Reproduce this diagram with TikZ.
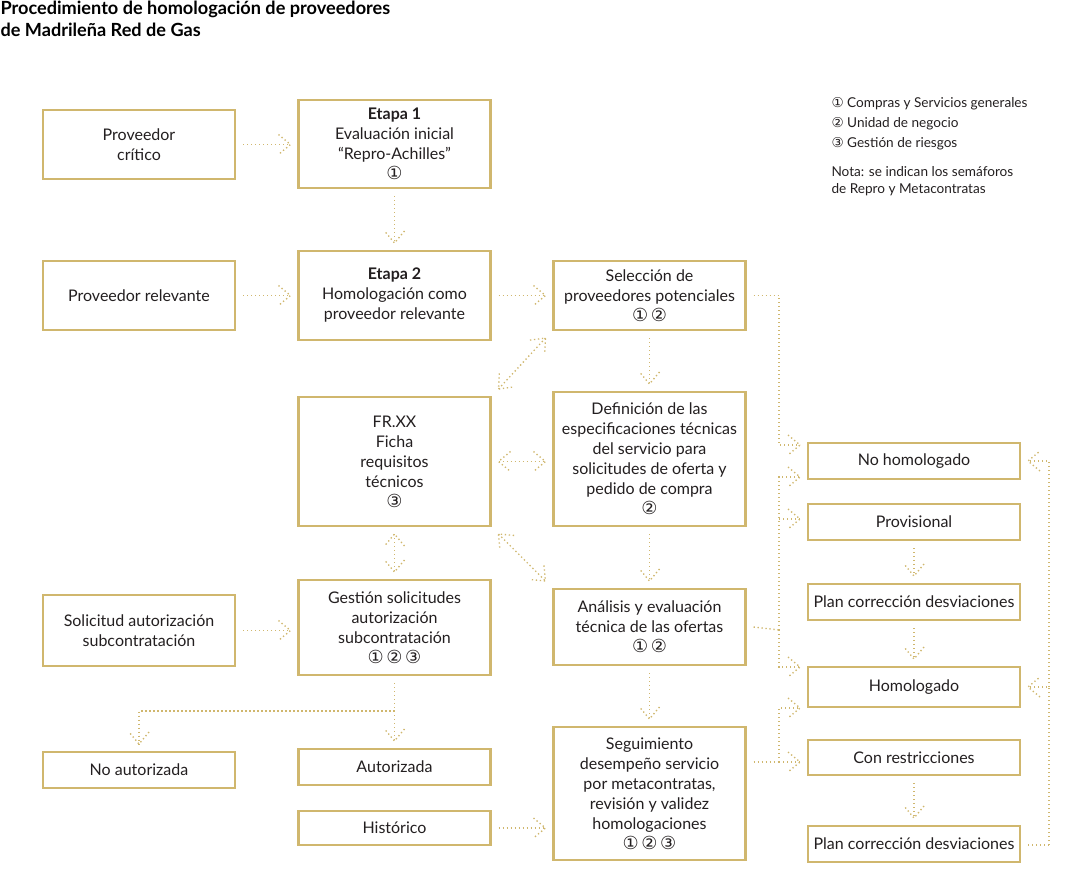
\documentclass[tikz,border=0pt]{standalone}
\usepackage{fontspec}
\setmainfont{Lato}
\newfontfamily\symfont{DejaVu Sans}
\usetikzlibrary{decorations.markings}

\definecolor{gold}{RGB}{208,183,110}
\definecolor{ink}{RGB}{35,31,32}

\newcommand{\cuno}{{\symfont\fontsize{13.5}{15}\selectfont ①}}
\newcommand{\cdos}{{\symfont\fontsize{13.5}{15}\selectfont ②}}
\newcommand{\ctres}{{\symfont\fontsize{13.5}{15}\selectfont ③}}

\tikzset{every picture/.style={line width=0.75pt}}
\tikzset{
  box/.style={draw=gold, line width=2pt, fill=white, align=center, text=ink,
    minimum width=144pt, inner sep=2pt, outer sep=6pt,
    font=\fontsize{12}{15}\selectfont},
  wbox/.style={box, minimum width=159pt},
  head/.style={draw=gold, line width=1pt, dash pattern=on 1pt off 2pt},
  flow/.style={head, postaction={decorate}, decoration={markings,
    mark=at position 1 with {\draw[head] (-9pt,7.5pt) -- (0,0) -- (-9pt,-7.5pt);}}},
  flowboth/.style={head, postaction={decorate}, decoration={markings,
    mark=at position 0 with {\draw[head] (9pt,7.5pt) -- (0,0) -- (9pt,-7.5pt);},
    mark=at position 1 with {\draw[head] (-9pt,7.5pt) -- (0,0) -- (-9pt,-7.5pt);}}},
  trunk/.style={head},
}

\begin{document}
\begin{tikzpicture}[x=0.75pt,y=0.75pt,yscale=-1,xscale=1]
\useasboundingbox (0,0) rectangle (1087,892);

% Title
\node (title) [anchor=north west, inner sep=0pt, align=left, text=black,
  font=\bfseries\fontsize{13.6}{16}\selectfont] at (0,1)
  {Procedimiento de homologación de proveedores\\de Madrileña Red de Gas};

% Legend
\node (leyenda) [anchor=north west, inner sep=0pt, align=left, text=ink,
  font=\fontsize{10.2}{15}\selectfont] at (831,97)
  {{\symfont ①}\ Compras y Servicios generales\\{\symfont ②}\ Unidad de negocio\\{\symfont ③}\ Gestión de riesgos};
\node (nota) [anchor=north west, inner sep=0pt, align=left, text=ink,
  font=\fontsize{10.2}{12.75}\selectfont] at (831,166)
  {Nota: se indican los semáforos\\de Repro y Metacontratas};

% Left column
\node (pc) [box, minimum height=51.75pt] at (139,144.5) {Proveedor\\crítico};
\node (pr) [box, minimum height=51.75pt] at (139,295.5) {Proveedor relevante};
\node (sol) [box, minimum height=53.25pt] at (139,630.5) {Solicitud autorización\\subcontratación};
\node (noa) [box, minimum height=27pt] at (139,770) {No autorizada};

% Second column
\node (e1) [box, minimum height=66pt] at (394.5,144) {\textbf{Etapa 1}\\Evaluación inicial\\“Repro-Achilles”\\\cuno};
\node (e2) [box, minimum height=66.75pt] at (394.5,295.5) {\textbf{Etapa 2}\\Homologación como\\proveedor relevante};
\node (fr) [box, minimum height=96.75pt] at (394.5,461.5) {FR.XX\\Ficha\\requisitos\\técnicos\\\ctres};
\node (ges) [box, minimum height=71.25pt] at (394.5,627.5) {Gestión solicitudes\\autorización\\subcontratación\\\cuno\,\cdos\,\ctres};
\node (aut) [box, minimum height=27pt] at (394.5,767) {Autorizada};
\node (his) [box, minimum height=25.5pt] at (394.5,828) {Histórico};

% Third column
\node (sel) [box, minimum height=51.75pt] at (649.5,295.5) {Selección de\\proveedores potenciales\\\cuno\,\cdos};
\node (def) [box, minimum height=100.5pt] at (649.5,459) {Definición de las\\especificaciones técnicas\\del servicio para\\solicitudes de oferta y\\pedido de compra\\\cdos};
\node (ana) [box, minimum height=57pt] at (649.5,627) {Análisis y evaluación\\técnica de las ofertas\\\cuno\,\cdos};
\node (seg) [box, minimum height=99.75pt] at (649.5,793.5) {Seguimiento\\desempeño servicio\\por metacontratas,\\revisión y validez\\homologaciones\\\cuno\,\cdos\,\ctres};

% Right column
\node (noh) [wbox, minimum height=27pt] at (914,461) {No homologado};
\node (pro) [wbox, minimum height=27pt] at (914,522) {Provisional};
\node (pl1) [wbox, minimum height=27pt] at (914,602) {Plan corrección desviaciones};
\node (hom) [wbox, minimum height=30pt] at (914,687) {Homologado};
\node (con) [wbox, minimum height=26.25pt] at (914,757.5) {Con restricciones};
\node (pl2) [wbox, minimum height=27pt] at (914,844) {Plan corrección desviaciones};

% Bus points
\coordinate (split) at (394.5,711);
\coordinate (busA) at (779,630);
\coordinate (busB) at (779,762);
\coordinate (busC) at (1049,845);

% Connectors
\draw [flow] (pc.east) -- (pc.east -| e1.west);
\draw [flow] (e1.south) -- (e2.north);
\draw [flow] (pr.east) -- (pr.east -| e2.west);
\draw [flow] (e2.east) -- (e2.east -| sel.west);
\draw [flowboth] (fr.north east) -- (sel.south west);
\draw [flow] (sel.south) -- (def.north);
\draw [flowboth] (fr.east) -- (fr.east -| def.west);
\draw [flowboth] (fr.south east) -- (ana.north west);
\draw [flow] (def.south) -- (ana.north);
\draw [flow] (ana.south) -- (seg.north);
\draw [flowboth] (fr.south) -- (ges.north);
\draw [flow] (sol.east) -- (sol.east -| ges.west);
\draw [flow] (ges.south) -- (aut.north);
\draw [flow] (split) -| (noa.north);
\draw [flow] (his.east) -- (his.east -| seg.west);

% Right bus lines
\draw [flow] (sel.east) -| (779,445) -- (noh.west |- 0,445);
\draw [trunk] (ana.east) -- (busA);
\draw [flow] (busA) |- (noh.west |- 0,477);
\draw [flow] (779,519) -- (pro.west |- 0,519);
\draw [flow] (busA) |- (hom.west |- 0,667);
\draw [trunk] (seg.east |- busB) -- (busB);
\draw [flow] (busB) |- (hom.west |- 0,708);
\draw [flow] (busB) -- (con.west |- busB);

\draw [flow] (pro.south) -- (pl1.north);
\draw [flow] (pl1.south) -- (hom.north);
\draw [flow] (con.south) -- (pl2.north);

\draw [trunk] (pl2.east |- busC) -- (busC);
\draw [flow] (busC) |- (hom.east);
\draw [flow] (busC |- hom.east) |- (noh.east);
\end{tikzpicture}
\end{document}
